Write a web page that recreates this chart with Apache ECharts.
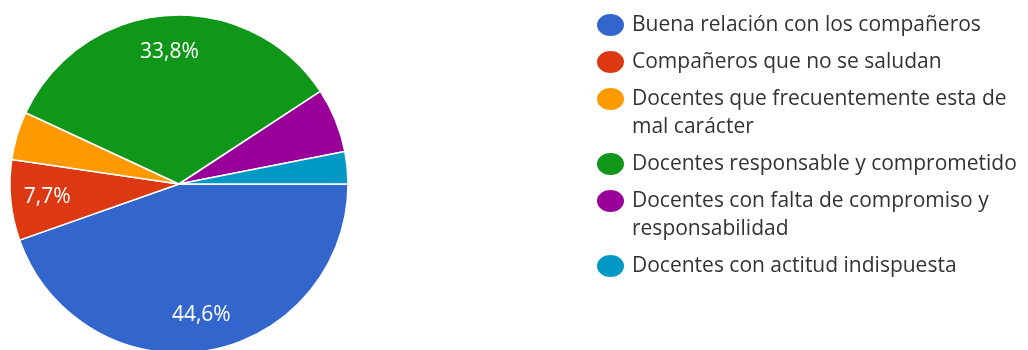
<!DOCTYPE html>
<html>
<head>
<meta charset="utf-8">
<script src="https://cdn.jsdelivr.net/npm/echarts@6/dist/echarts.min.js"></script>
<style>
  html, body { margin: 0; padding: 0; background: #ffffff; }
  #chart { width: 1028px; height: 350px; }
</style>
</head>
<body>
<div id="chart"></div>
<script>
// Survey answers and how many respondents chose each one
const categories = [
  'Buena relación con los compañeros',
  'Compañeros que no se saludan',
  'Docentes que frecuentemente esta de mal carácter',
  'Docentes responsable y comprometido',
  'Docentes con falta de compromiso y responsabilidad',
  'Docentes con actitud indispuesta'
];
const responses = [29, 5, 3, 22, 4, 2];
const sliceColors = ['#3366cc', '#dc3912', '#ff9900', '#109618', '#990099', '#0099c6'];
const labelMinPercent = 7; // thinner slices stay unlabelled

const FONT = '"Open Sans", "Liberation Sans", Arial, sans-serif';
const LEGEND_FONT_SIZE = 21;
const LEGEND_LINE = 28;
const LEGEND_GAP = 9;
const LEGEND_WRAP = 394;
const LEGEND_FIRST_CENTER = 25;

const total = responses.reduce((a, b) => a + b, 0);
const percentText = v => (v / total * 100).toFixed(1).replace('.', ',') + '%';

const pieData = categories.map((name, i) => ({
  name: name,
  value: responses[i],
  itemStyle: { color: sliceColors[i] }
}));
const labelData = categories.map((name, i) => ({ name: name, value: responses[i] }));

// word-wrap legend entries to the width available beside the pie
const measure = document.createElement('canvas').getContext('2d');
measure.font = LEGEND_FONT_SIZE + 'px ' + FONT;
function wrapText(text, maxWidth) {
  const words = text.split(' ');
  const lines = [];
  let line = '';
  words.forEach(w => {
    const test = line ? line + ' ' + w : w;
    if (line && measure.measureText(test).width > maxWidth) {
      lines.push(line);
      line = w;
    } else {
      line = test;
    }
  });
  if (line) lines.push(line);
  return lines;
}

// one legend block per entry; leading blank lines keep the marker
// level with the first line of a wrapped entry
const ellipse = 'path://M0,9.5A11.5,9.5 0 1,1 23,9.5A11.5,9.5 0 1,1 0,9.5Z';
let centerY = LEGEND_FIRST_CENTER;
const legends = categories.map((name, i) => {
  const lines = wrapText(name, LEGEND_WRAP);
  const top = centerY - (lines.length - 0.5) * LEGEND_LINE;
  centerY += lines.length * LEGEND_LINE + LEGEND_GAP;
  const padded = new Array(lines.length - 1).fill('').concat(lines).join('\n');
  return {
    orient: 'vertical',
    left: 595,
    top: top,
    padding: 0,
    itemGap: 0,
    itemWidth: 29,
    itemHeight: 24,
    icon: ellipse,
    symbolKeepAspect: false,
    selectedMode: false,
    data: [{
      name: name,
      icon: ellipse,
      itemStyle: { color: sliceColors[i] },
      textStyle: { padding: [0, 0, 0, 2] }
    }],
    formatter: () => padded,
    textStyle: {
      fontFamily: FONT,
      fontSize: LEGEND_FONT_SIZE,
      color: '#333333',
      lineHeight: LEGEND_LINE
    }
  };
});

const chart = echarts.init(document.getElementById('chart'), null, { renderer: 'canvas' });
chart.setOption({
  animation: false,
  backgroundColor: '#ffffff',
  legend: legends,
  series: [
    {
      type: 'pie',
      center: [179, 184],
      radius: [0, 169],
      startAngle: 0,
      clockwise: true,
      silent: true,
      data: pieData,
      label: { show: false },
      labelLine: { show: false },
      itemStyle: { borderColor: '#ffffff', borderWidth: 1.5 }
    },
    {
      // transparent ring that carries the percentage labels
      type: 'pie',
      center: [179, 184],
      radius: [90, 169],
      startAngle: 0,
      clockwise: true,
      silent: true,
      data: labelData,
      itemStyle: { color: 'rgba(0,0,0,0)', borderWidth: 0 },
      labelLine: { show: false },
      label: {
        show: true,
        position: 'inside',
        color: '#ffffff',
        fontFamily: FONT,
        fontSize: 21,
        formatter: p => (p.value / total * 100 >= labelMinPercent ? percentText(p.value) : '')
      }
    }
  ]
});
</script>
</body>
</html>
